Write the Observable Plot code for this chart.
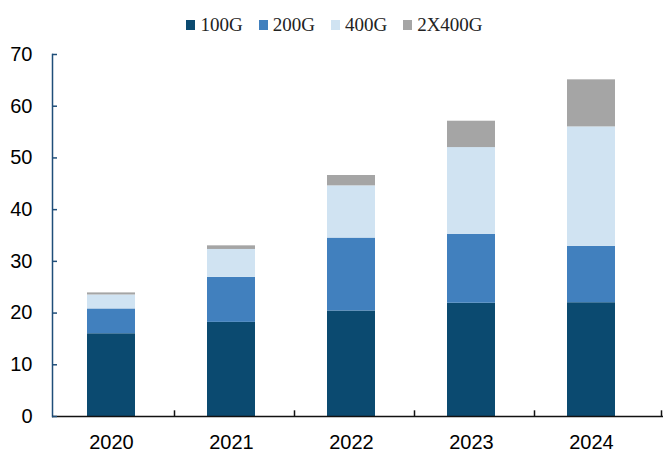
<!DOCTYPE html>
<html><head><meta charset="utf-8">
<script src="https://cdn.jsdelivr.net/npm/d3@7"></script>
<script src="https://cdn.jsdelivr.net/npm/@observablehq/plot@0.6"></script>
<style>
body{margin:0;background:#fff;}
#legend{height:40px;display:flex;justify-content:center;align-items:center;gap:16px;padding-left:4px;font-family:"Liberation Serif","DejaVu Serif",serif;font-size:19px;color:#222;box-sizing:border-box;padding-top:9px;}
#legend span.item{display:flex;align-items:center;}
#legend span.sw{width:9px;height:10px;display:inline-block;margin-right:5px;}
</style></head>
<body>
<div id="legend"></div>
<div id="chart"></div>
<script>
const years = ["2020","2021","2022","2023","2024"];
const series = ["100G","200G","400G","2X400G"];
const v100 = [16.0, 18.2, 20.4, 21.9, 22.0];
const v200 = [4.8, 8.7, 14.1, 13.3, 10.9];
const v400 = [2.7, 5.4, 10.1, 16.8, 23.1];
const v2x400 = [0.4, 0.7, 2.0, 5.1, 9.1];
const yTicks = [0,10,20,30,40,50,60,70];
const colors = ["#0B4A70","#4180BE","#D0E3F2","#A5A5A5"];

const vals = [v100, v200, v400, v2x400];
const data = [];
series.forEach((s, si) => years.forEach((y, yi) => data.push({year: y, series: s, value: vals[si][yi]})));

const leg = document.getElementById("legend");
series.forEach((s, i) => {
  const it = document.createElement("span"); it.className = "item";
  const sw = document.createElement("span"); sw.className = "sw"; sw.style.background = colors[i];
  it.appendChild(sw); it.appendChild(document.createTextNode(s));
  leg.appendChild(it);
});

const plot = Plot.plot({
  width: 665, height: 426,
  marginTop: 14, marginBottom: 50, marginLeft: 52, marginRight: 2,
  style: {fontFamily: "'Liberation Sans', Arial, sans-serif", background: "#fff"},
  x: {domain: years, paddingInner: 0.6, paddingOuter: 0.337, align: 0.4265, label: null},
  y: {domain: [0, 70], label: null},
  color: {domain: series, range: colors},
  marks: [
    Plot.barY(data, {x: "year", y: "value", fill: "series", order: series}),
    Plot.frame({anchor: "left", stroke: "#1F4E79", strokeWidth: 1.5}),
    Plot.ruleY([0], {stroke: "#111", strokeWidth: 1.5}),
    Plot.ruleX(years.slice(0, 4), {x: d => d, dx: 63, y1: 0, y2: 1.1, stroke: "#111", strokeWidth: 1.5}),
    Plot.ruleX(years.slice(4), {x: d => d, dx: 70, y1: 0, y2: 1.1, stroke: "#111", strokeWidth: 1.5}),
    Plot.axisY(yTicks, {tickSize: -5, tickPadding: 25, stroke: "#1F4E79", strokeWidth: 1.5, fill: "#000", fontSize: 20, label: null}),
    Plot.axisX({tickSize: 0, tickPadding: 18, fill: "#000", fontSize: 20, label: null})
  ]
});
document.getElementById("chart").appendChild(plot);
</script>
</body></html>
